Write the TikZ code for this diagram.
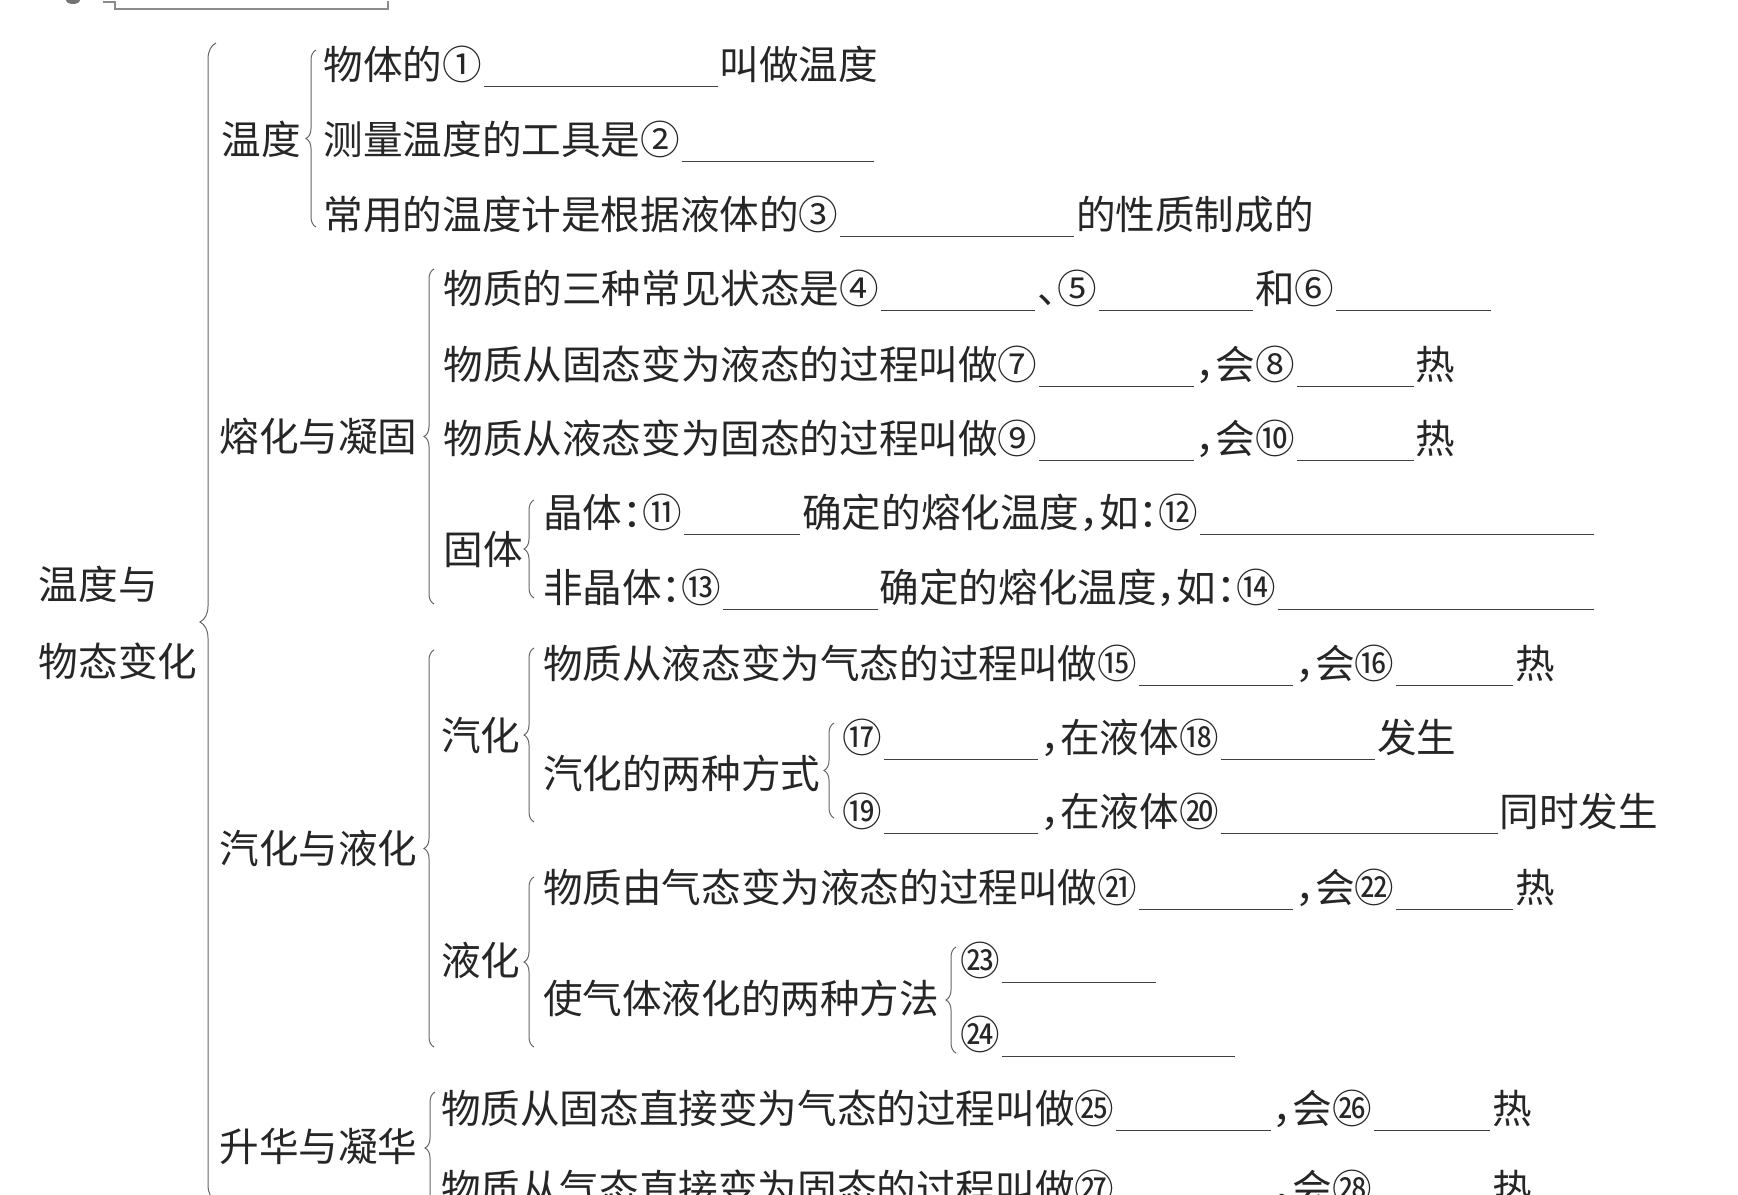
\documentclass[tikz,border=0pt]{standalone}
\usepackage{fontspec}
\newfontfamily\cjk{Noto Sans CJK SC}
\usetikzlibrary{decorations.pathreplacing}
\newcommand{\blank}[1]{\hspace{.05em}\textcolor{black!75}{\rule[-.2em]{#1}{.7pt}}\hspace{.05em}}
\newcommand{\pc}[1]{\makebox[.5em][l]{#1}}

\begin{document}
\begin{tikzpicture}[x=0.5pt,y=-0.5pt,
   every node/.style={font={\cjk\fontsize{19.8pt}{24pt}\selectfont},text=black!85},
   item/.style={anchor=base west,inner sep=0pt,outer sep=0pt},
   brc/.style={decorate,decoration={brace,amplitude=5pt},draw=black!60,line width=0.5pt},
   bigbrc/.style={brc,decoration={brace,amplitude=8pt}}
]
\useasboundingbox (0,0) rectangle (1738,1194);

% cut-off heading box at the top
\fill[black!55] (73,0) ellipse (3.5pt and 2pt);
\draw[black!45,line width=1.3pt] (103,2) -- (115,2) -- (115,9) -- (388,9) -- (388,1);

% Root
\node[item] (rootA) at (38.8,599) {温度与};
\node[item] (rootB) at (38.8,676) {物态变化};

% Layer 2
\node[item] (wd)  at (221.7,154) {温度};
\node[item] (rh)  at (219.5,451) {熔化与凝固};
\node[item] (qh)  at (219.5,863) {汽化与液化};
\node[item] (sh)  at (219.5,1161) {升华与凝华};

% Layer 3
\node[item] (gt)  at (443.4,564) {固体};
\node[item] (qhA) at (441,750) {汽化};
\node[item] (qhB) at (543,788) {汽化的两种方式};
\node[item] (yh)  at (441,975) {液化};
\node[item] (yhB) at (543,1013) {使气体液化的两种方法};

% Rows: temperature
\node[item] (r1) at (323.7,79)  {物体的①\blank{5.9em}叫做温度};
\node[item] (r2) at (323.7,154) {测量温度的工具是②\blank{4.85em}};
\node[item] (r3) at (323.7,229) {常用的温度计是根据液体的③\blank{5.9em}的性质制成的};

% Rows: melting and solidifying
\node[item] (r4) at (443.4,303) {物质的三种常见状态是④\blank{3.9em}\pc{、}⑤\blank{3.9em}和⑥\blank{3.9em}};
\node[item] (r5) at (443.4,379) {物质从固态变为液态的过程叫做⑦\blank{3.9em}\pc{，}会⑧\blank{2.95em}热};
\node[item] (r6) at (443.4,453) {物质从液态变为固态的过程叫做⑨\blank{3.9em}\pc{，}会⑩\blank{2.95em}热};
\node[item] (r7) at (543,527) {晶体\pc{：}⑪\blank{2.95em}确定的熔化温度\pc{，}如\pc{：}⑫\blank{9.95em}};
\node[item] (r8) at (543,602) {非晶体\pc{：}⑬\blank{3.9em}确定的熔化温度\pc{，}如\pc{：}⑭\blank{8em}};

% Rows: vaporizing and liquefying
\node[item] (r9)  at (543,678) {物质从液态变为气态的过程叫做⑮\blank{3.9em}\pc{，}会⑯\blank{2.95em}热};
\node[item] (r10) at (842.4,752) {⑰\blank{3.9em}\pc{，}在液体⑱\blank{3.9em}发生};
\node[item] (r11) at (842.4,826) {⑲\blank{3.9em}\pc{，}在液体⑳\blank{7em}同时发生};
\node[item] (r12) at (543,902) {物质由气态变为液态的过程叫做㉑\blank{3.9em}\pc{，}会㉒\blank{2.95em}热};
\node[item] (r13) at (960,975)  {㉓\blank{3.9em}};
\node[item] (r14) at (960,1049) {㉔\blank{5.9em}};

% Rows: sublimating and desublimating
\node[item] (r15) at (441,1123) {物质从固态直接变为气态的过程叫做㉕\blank{3.9em}\pc{，}会㉖\blank{2.95em}热};
\node[item] (r16) at (441,1203) {物质从气态直接变为固态的过程叫做㉗\blank{3.9em}\pc{，}会㉘\blank{2.95em}热};

% Braces (x, top, bottom)
\draw[bigbrc] (216,1201) -- (216,43);
\foreach \bx/\btop/\bbot in {316/50/227, 434/269/604, 534/500/598,
                             434/650/1047, 534/648/822, 834/723/818,
                             534/877/1047, 956/947/1053, 435/1092/1204}
   \draw[brc] (\bx,\bbot) -- (\bx,\btop);

\end{tikzpicture}
\end{document}
